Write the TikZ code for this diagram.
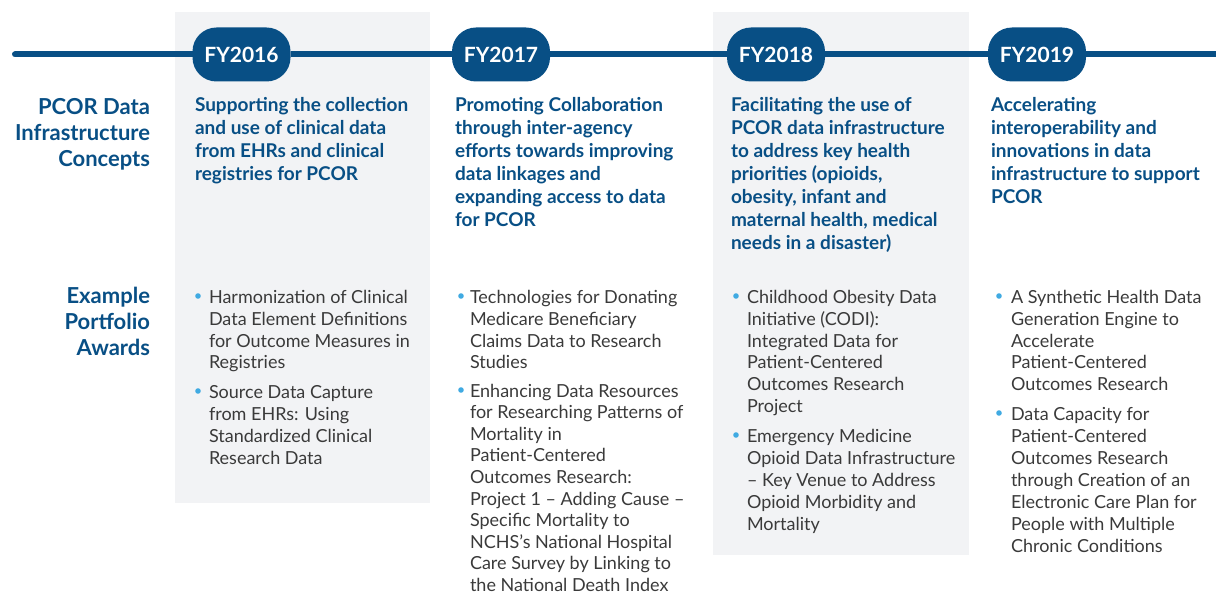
\documentclass[tikz,border=0pt]{standalone}
\usepackage{fontspec}
\setmainfont{Lato}
\definecolor{navy}{RGB}{8,79,133}
\definecolor{panelgray}{RGB}{242,243,245}
\definecolor{bodygray}{RGB}{58,58,58}
\definecolor{dotblue}{RGB}{64,170,226}
\newcommand{\colbox}[2]{\parbox[t]{#1}{\raggedright #2}}
\newcommand{\rowbox}[2]{\parbox[t]{#1}{\raggedleft #2}}
\begin{document}
\begin{tikzpicture}[x=1pt,y=-1pt,
  every node/.style={inner sep=0pt, outer sep=0pt},
  pill/.style={fill=navy, rounded corners=24pt, minimum width=98pt, minimum height=54pt,
    text=white, font=\bfseries\fontsize{21}{24}\selectfont},
  tline/.style={draw=navy, line width=6pt},
  rowhead/.style={anchor=base east, text=navy, font=\bfseries\fontsize{22}{26}\selectfont},
  concept/.style={anchor=base west, text=navy, font=\bfseries\fontsize{19}{23}\selectfont},
  award/.style={anchor=base west, text=bodygray, font=\fontsize{18}{22}\selectfont},
  dot/.style={circle, fill=dotblue, minimum size=5.6pt},
  panel/.style={fill=panelgray}
]
\useasboundingbox (0,0) rectangle (1216,596);
% panels
\fill[panel] (175,12) rectangle (430,503);
\fill[panel] (713,12) rectangle (969,555);
% timeline
\node[pill] (p16) at (241.5,54.5) {FY2016};
\node[pill] (p17) at (501,54.5) {FY2017};
\node[pill] (p18) at (776,54.5) {FY2018};
\node[pill] (p19) at (1037,54.5) {FY2019};
\coordinate (lstart) at (15,54.5);
\coordinate (lend) at (1220,54.5);
\draw[tline, line cap=round] (lstart) -- (p16);
\draw[tline] (p16) -- (p17);
\draw[tline] (p17) -- (p18);
\draw[tline] (p18) -- (p19);
\draw[tline] (p19) -- (lend);
% row headings
\node[rowhead] (h1) at (150,115) {\rowbox{148pt}{PCOR Data\\Infrastructure\\Concepts}};
\node[rowhead] (h2) at (150,303) {\rowbox{148pt}{Example\\Portfolio\\Awards}};
% concepts
\node[concept] (c16) at (195,112) {\colbox{240pt}{Supporting the collection\\and use of clinical data\\from EHRs and clinical\\registries for PCOR}};
\node[concept] (c17) at (455,112) {\colbox{250pt}{Promoting Collaboration\\through inter-agency\\efforts towards improving\\data linkages and\\expanding access to data\\for PCOR}};
\node[concept] (c18) at (731,112) {\colbox{250pt}{Facilitating the use of\\PCOR data infrastructure\\to address key health\\priorities (opioids,\\obesity, infant and\\maternal health, medical\\needs in a disaster)}};
\node[concept] (c19) at (991,112) {\colbox{250pt}{Accelerating\\interoperability and\\innovations in data\\infrastructure to support\\PCOR}};
% awards col 1
\node[dot] (d16a) at (198,296) {};
\node[award] (a16a) at (209,303) {\colbox{240pt}{Harmonization of Clinical\\Data Element Definitions\\for Outcome Measures in\\Registries}};
\node[dot] (d16b) at (198,391) {};
\node[award] (a16b) at (209,398) {\colbox{240pt}{Source Data Capture\\from EHRs: Using\\Standardized Clinical\\Research Data}};
% awards col 2
\node[dot] (d17a) at (461,296) {};
\node[award] (a17a) at (470,303) {\colbox{240pt}{Technologies for Donating\\Medicare Beneficiary\\Claims Data to Research\\Studies}};
\node[dot] (d17b) at (461,390) {};
\node[award, font=\fontsize{18}{21.6}\selectfont] (a17b) at (470,397) {\colbox{240pt}{Enhancing Data Resources\\for Researching Patterns of\\Mortality in\\Patient-Centered\\Outcomes Research:\\Project 1 – Adding Cause –\\Specific Mortality to\\NCHS’s National Hospital\\Care Survey by Linking to\\the National Death Index}};
% awards col 3
\node[dot] (d18a) at (736,296) {};
\node[award] (a18a) at (747,303) {\colbox{240pt}{Childhood Obesity Data\\Initiative (CODI):\\Integrated Data for\\Patient-Centered\\Outcomes Research\\Project}};
\node[dot] (d18b) at (736,435) {};
\node[award] (a18b) at (747,442) {\colbox{240pt}{Emergency Medicine\\Opioid Data Infrastructure\\– Key Venue to Address\\Opioid Morbidity and\\Mortality}};
% awards col 4
\node[dot] (d19a) at (999,296) {};
\node[award] (a19a) at (1011,303) {\colbox{240pt}{A Synthetic Health Data\\Generation Engine to\\Accelerate\\Patient-Centered\\Outcomes Research}};
\node[dot] (d19b) at (999,413) {};
\node[award] (a19b) at (1011,420) {\colbox{240pt}{Data Capacity for\\Patient-Centered\\Outcomes Research\\through Creation of an\\Electronic Care Plan for\\People with Multiple\\Chronic Conditions}};
\end{tikzpicture}
\end{document}
